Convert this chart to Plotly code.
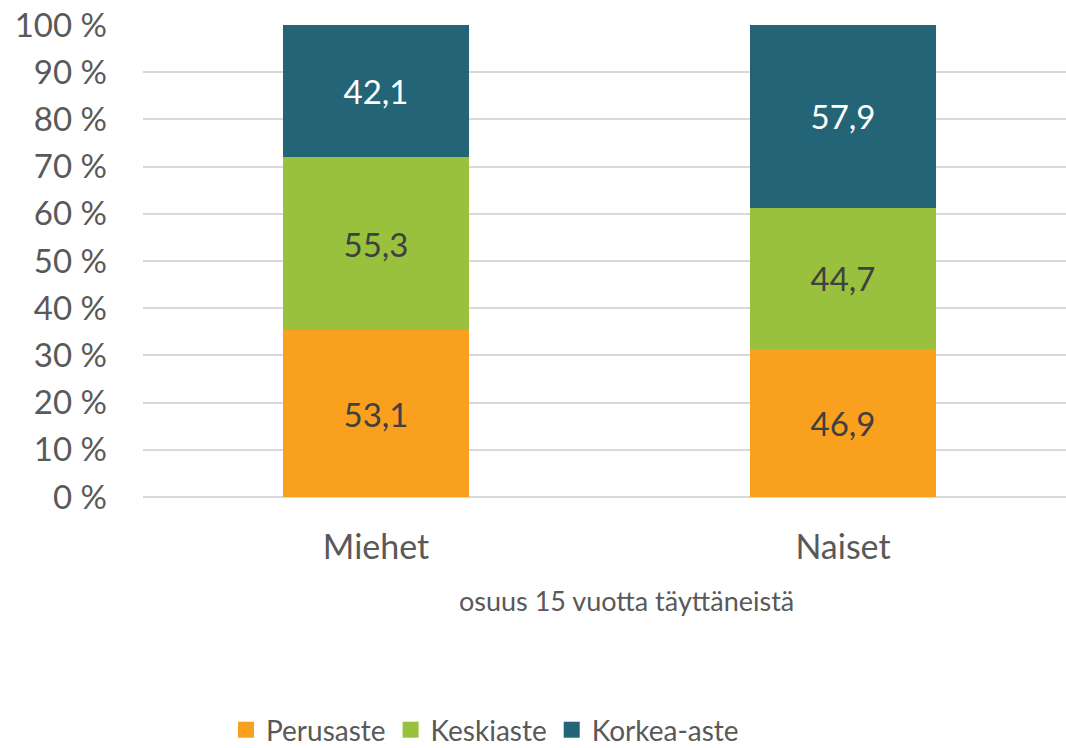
import plotly.graph_objects as go

categories = ["Miehet", "Naiset"]
series_names = ["Perusaste", "Keskiaste", "Korkea-aste"]
perusaste = [53.1, 46.9]
keskiaste = [55.3, 44.7]
korkea = [42.1, 57.9]
colors = ["#F9A11F", "#99C13D", "#246477"]
text_colors = ["#404040", "#404040", "#FFFFFF"]
y_ticks = [0, 10, 20, 30, 40, 50, 60, 70, 80, 90, 100]
y_tick_labels = [f"{v} %" for v in y_ticks]
axis_title = "osuus 15 vuotta täyttäneistä"

FONT = "Lato"
GREY = "#595959"

fig = go.Figure()
for name, vals, col, tcol in zip(series_names, [perusaste, keskiaste, korkea], colors, text_colors):
    fig.add_trace(go.Bar(
        x=categories, y=vals, name=name,
        marker=dict(color=col, line=dict(width=0)),
        width=0.4,
        text=[f"{v:.1f}".replace(".", ",") for v in vals],
        textposition="inside", insidetextanchor="middle",
        textfont=dict(color=tcol, size=33, family=FONT),
        textangle=0,
        showlegend=False,
        hoverinfo="skip",
    ))
# legend entries with larger square swatches
for name, col in zip(series_names, colors):
    fig.add_trace(go.Scatter(
        x=[None], y=[None], mode="markers", name=name,
        marker=dict(symbol="square", size=16, color=col),
        showlegend=True,
    ))

fig.update_layout(
    barmode="stack", barnorm="percent",
    width=1066, height=748,
    margin=dict(l=143, r=0, t=25, b=251, autoexpand=False),
    paper_bgcolor="white", plot_bgcolor="white",
    font=dict(family=FONT, color=GREY),
    xaxis=dict(range=[-0.499, 1.4775], showgrid=False, showline=False, ticks="",
               automargin=False, ticklabelstandoff=27,
               tickfont=dict(size=34, color=GREY, family=FONT)),
    yaxis=dict(range=[0, 100], tickvals=y_ticks, ticktext=y_tick_labels,
               showgrid=True, gridcolor="#D9D9D9", gridwidth=1.5,
               zeroline=True, zerolinecolor="#D9D9D9", zerolinewidth=1.5,
               showline=False, ticks="", automargin=False, ticklabelstandoff=35,
               tickfont=dict(size=33, color=GREY, family=FONT)),
    showlegend=True,
    legend=dict(orientation="h", x=(485 - 143) / 923, xanchor="center",
                y=(497 - 730) / 472, yanchor="middle",
                font=dict(size=28, color=GREY, family=FONT),
                traceorder="normal", itemwidth=30, tracegroupgap=0,
                borderwidth=0),
    annotations=[dict(text=axis_title,
                      x=(626 - 143) / (1066 - 143), xref="paper",
                      y=(497 - 600) / 472, yref="paper", yanchor="middle",
                      showarrow=False, font=dict(size=27, color=GREY, family=FONT))],
)

fig.write_html("out.html", config={"displayModeBar": False},
               post_script="document.body.style.margin='0';document.body.style.overflow='hidden';")
